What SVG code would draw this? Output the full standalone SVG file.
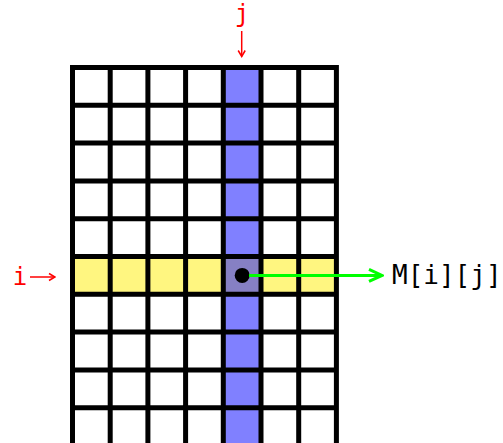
<svg xmlns="http://www.w3.org/2000/svg" width="503" height="443" viewBox="0 0 503 443">
  <defs>
    <style>
      .grid { stroke: #000; stroke-width: 5; stroke-linecap: square; fill: none; }
      .lbl { font-family: "DejaVu Sans Mono", "Liberation Mono", monospace; font-size: 24px; }
      .big { font-size: 26px; }
      .red { fill: #ff0000; }
      .redline { stroke: #ff0000; stroke-width: 1.5; fill: none; }
      .green { stroke: #00ff00; stroke-width: 3; fill: none; }
    </style>
    <marker id="ahRed" markerWidth="10" markerHeight="10" refX="9" refY="5" orient="auto" markerUnits="userSpaceOnUse">
      <path d="M3,1.5 L9,5 L3,8.5" stroke="#ff0000" stroke-width="1.5" fill="none"/>
    </marker>
    <marker id="ahGreen" markerWidth="16" markerHeight="16" refX="14" refY="8" orient="auto" markerUnits="userSpaceOnUse">
      <path d="M1,2 L14,8 L1,14" stroke="#00ff00" stroke-width="3" fill="none"/>
    </marker>
  </defs>

  <g id="matrix">
    <rect x="72.5" y="67.5" width="263.9" height="378" fill="#ffffff"/>
    <rect id="row-i" x="72.5" y="256.5" width="263.9" height="37.8" fill="#fff680"/>
    <rect id="col-j" x="223.3" y="67.5" width="37.7" height="378" fill="#8080ff"/>
    <rect x="223.3" y="256.5" width="37.7" height="37.8" fill="#8680c4"/>
    <path class="grid" d="M72.5,67.5V445.5 M110.2,67.5V445.5 M147.9,67.5V445.5 M185.6,67.5V445.5 M223.3,67.5V445.5 M261,67.5V445.5 M298.7,67.5V445.5 M336.4,67.5V445.5
      M72.5,67.5H336.4 M72.5,105.3H336.4 M72.5,143.1H336.4 M72.5,180.9H336.4 M72.5,218.7H336.4 M72.5,256.5H336.4 M72.5,294.3H336.4 M72.5,332.1H336.4 M72.5,369.9H336.4 M72.5,407.7H336.4"/>
  </g>

  <g id="element">
    <circle cx="242.2" cy="275.4" r="7.5" fill="#000"/>
  </g>

  <g id="label-i">
    <text class="lbl red" x="20" y="285" text-anchor="middle">i</text>
  </g>
  <g id="label-j">
    <text class="lbl red" x="242" y="22" text-anchor="middle">j</text>
  </g>
  <g id="label-m">
    <text class="lbl big" x="392" y="284" fill="#000">M[i][j]</text>
  </g>

  <g id="connectors">
    <line class="redline" x1="30" y1="277" x2="55" y2="277" marker-end="url(#ahRed)"/>
    <line class="redline" x1="241.7" y1="31" x2="241.7" y2="56.5" marker-end="url(#ahRed)"/>
    <line class="green" x1="249" y1="275.4" x2="382" y2="275.4" marker-end="url(#ahGreen)"/>
  </g>
</svg>
